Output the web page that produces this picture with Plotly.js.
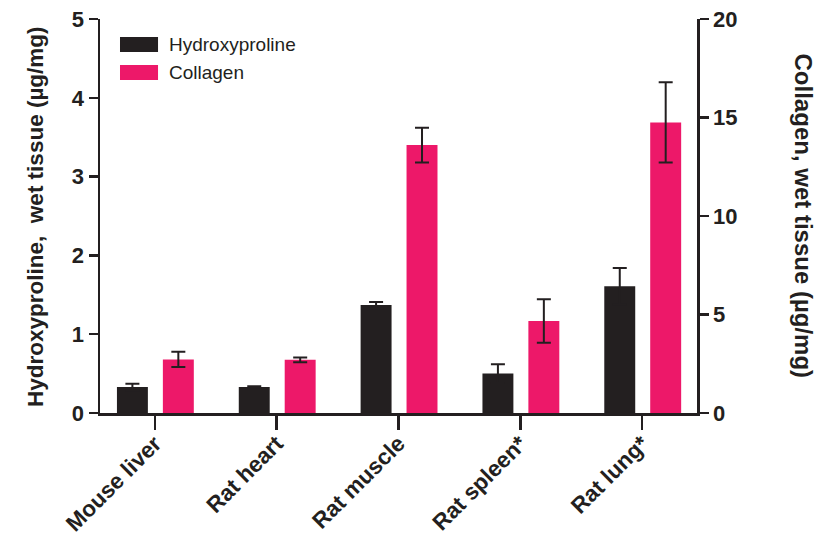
<!DOCTYPE html>
<html>
<head>
<meta charset="utf-8">
<script src="https://cdn.plot.ly/plotly-3.0.1.min.js"></script>
<style>html,body{margin:0;padding:0;background:#fff;}#chart{width:819px;height:544px;}</style>
</head>
<body>
<div id="chart"></div>
<script>
const categories = ["Mouse liver", "Rat heart", "Rat muscle", "Rat spleen*", "Rat lung*"];
const hydroxyproline = [0.33, 0.33, 1.37, 0.50, 1.61];
const hydroxyprolineErr = [0.04, 0.01, 0.04, 0.12, 0.23];
const collagen = [2.72, 2.70, 13.60, 4.67, 14.75];
const collagenErr = [0.39, 0.12, 0.88, 1.10, 2.04];

const ink = "#231f20";
const pink = "#ed1869";
const fam = "Liberation Sans, Arial, Helvetica, sans-serif";

const traces = [
  {
    type: "bar", name: "Hydroxyproline", x: categories, y: hydroxyproline,
    yaxis: "y", width: 0.254, offset: -0.311,
    marker: {color: ink, line: {width: 0}},
    error_y: {type: "data", array: hydroxyprolineErr, visible: true, color: ink, thickness: 2, width: 7}
  },
  {
    type: "bar", name: "Collagen", x: categories, y: collagen,
    yaxis: "y2", width: 0.254, offset: 0.066,
    marker: {color: pink, line: {width: 0}},
    error_y: {type: "data", array: collagenErr, visible: true, color: ink, thickness: 2, width: 7}
  }
];

const yTickFont = {family: fam, size: 22, color: ink, weight: "bold"};
const xTickFont = {family: fam, size: 22.5, color: ink, weight: "bold"};

const layout = {
  width: 819, height: 544,
  margin: {l: 100, r: 122, t: 19, b: 131},
  paper_bgcolor: "#fff", plot_bgcolor: "#fff",
  barmode: "overlay",
  showlegend: false,
  xaxis: {
    type: "category", range: [-0.45, 4.45],
    showline: true, linecolor: ink, linewidth: 2.5,
    ticks: "outside", ticklen: 14, tickwidth: 2.5, tickcolor: ink,
    tickangle: -45, tickfont: xTickFont, ticklabelstandoff: -8,
    showgrid: false, zeroline: false, automargin: false
  },
  yaxis: {
    range: [0, 5], tickvals: [0, 1, 2, 3, 4, 5],
    showline: true, linecolor: ink, linewidth: 2.5,
    ticks: "outside", ticklen: 9, tickwidth: 2.5, tickcolor: ink,
    tickfont: yTickFont, showgrid: false, zeroline: false, automargin: false
  },
  yaxis2: {
    range: [0, 20], tickvals: [0, 5, 10, 15, 20],
    overlaying: "y", side: "right", anchor: "x",
    showline: true, linecolor: ink, linewidth: 2.5,
    ticks: "outside", ticklen: 9, tickwidth: 2.5, tickcolor: ink,
    tickfont: yTickFont, showgrid: false, zeroline: false, automargin: false
  },
  shapes: [
    {type: "rect", xref: "paper", yref: "paper", x0: 0.0335, x1: 0.0972, y0: 0.916, y1: 0.954, fillcolor: ink, line: {width: 0}},
    {type: "rect", xref: "paper", yref: "paper", x0: 0.0335, x1: 0.0972, y0: 0.845, y1: 0.883, fillcolor: pink, line: {width: 0}}
  ],
  annotations: [
    {xref: "paper", yref: "paper", x: 0.112, y: 0.935, xanchor: "left", yanchor: "middle", text: "Hydroxyproline", showarrow: false, font: {family: fam, size: 19, color: ink}},
    {xref: "paper", yref: "paper", x: 0.112, y: 0.864, xanchor: "left", yanchor: "middle", text: "Collagen", showarrow: false, font: {family: fam, size: 19, color: ink}},
    {xref: "paper", yref: "paper", x: -0.109, y: 0.5, xanchor: "center", yanchor: "middle", textangle: -90, text: "Hydroxyproline,\u00a0 wet tissue (µg/mg)", showarrow: false, font: {family: fam, size: 22.5, color: ink, weight: "bold"}},
    {xref: "paper", yref: "paper", x: 1.18, y: 0.5, xanchor: "center", yanchor: "middle", textangle: 90, text: "Collagen, wet tissue (µg/mg)", showarrow: false, font: {family: fam, size: 24, color: ink, weight: "bold"}}
  ]
};

Plotly.newPlot("chart", traces, layout, {staticPlot: true, displayModeBar: false});
</script>
</body>
</html>
